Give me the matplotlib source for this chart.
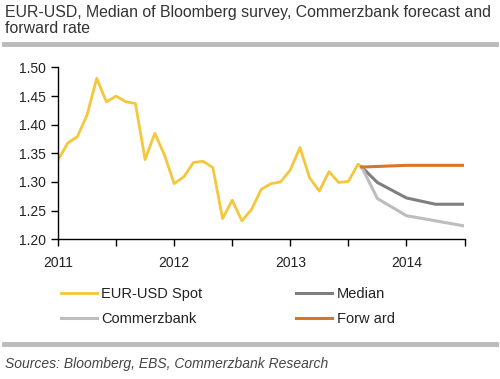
import matplotlib
matplotlib.use("Agg")
import matplotlib.pyplot as plt
from matplotlib.lines import Line2D
import numpy as np

plt.rcParams['font.family'] = ['Liberation Sans', 'DejaVu Sans']

# EUR-USD spot, monthly from Jan 2011, plus last observation mid-Aug 2013
spot_x = list(2011 + np.arange(32) / 12.0) + [2013.615]
spot_y = [1.338, 1.368, 1.379, 1.417, 1.481, 1.440, 1.450, 1.440, 1.437, 1.339,
          1.385, 1.347, 1.297, 1.309, 1.334, 1.336, 1.325, 1.236, 1.268, 1.232,
          1.252, 1.287, 1.297, 1.300, 1.321, 1.360, 1.307, 1.284, 1.318, 1.299,
          1.301, 1.331, 1.326]

# forecasts from last spot to mid 2014
fc_x = [2013.615, 2013.75, 2014.0, 2014.25, 2014.5]
median = [1.326, 1.299, 1.272, 1.261, 1.261]
commerz = [1.326, 1.271, 1.241, 1.232, 1.223]
forward = [1.326, 1.327, 1.329, 1.329, 1.329]

c_spot = "#F5C73C"
c_median = "#7F7F7F"
c_commerz = "#BDBDBD"
c_forward = "#DD7425"

fig = plt.figure(figsize=(5.0, 3.79), dpi=100)
ax = fig.add_axes([0.116, 0.369, 0.813, 0.453])

l_spot, = ax.plot(spot_x, spot_y, color=c_spot, lw=2.0, label="EUR-USD Spot")
l_med, = ax.plot(fc_x, median, color=c_median, lw=2.2, label="Median")
l_com, = ax.plot(fc_x, commerz, color=c_commerz, lw=2.2, label="Commerzbank")
l_fwd, = ax.plot(fc_x, forward, color=c_forward, lw=2.2, label="Forw ard")

ax.set_xlim(2011, 2014.5)
ax.set_ylim(1.20, 1.50)
ax.set_yticks(np.arange(1.20, 1.501, 0.05))
ax.set_yticklabels(["%.2f" % v for v in np.arange(1.20, 1.501, 0.05)])
ax.set_xticks([2011, 2012, 2013, 2014])
ax.set_xticklabels(["2011", "2012", "2013", "2014"])
ax.set_xticks([2011.5, 2012.5, 2013.5, 2014.5], minor=True)
ax.tick_params(axis='both', which='both', direction='out', length=5, width=1,
               color='black', labelsize=10, labelcolor='#222222')
ax.tick_params(axis='x', pad=7)
for s in ['top', 'right']:
    ax.spines[s].set_visible(False)
for s in ['left', 'bottom']:
    ax.spines[s].set_color('black')
    ax.spines[s].set_linewidth(1.0)

fig.legend(handles=[l_spot, l_com, l_med, l_fwd], ncol=2, frameon=False,
           loc='upper left', bbox_to_anchor=(0.095, 0.277), fontsize=10.5,
           handlelength=2.5, handletextpad=0.3, columnspacing=6.4,
           labelspacing=0.75, labelcolor='#222222')

fig.text(0.01, 0.988, "EUR-USD, Median of Bloomberg survey, Commerzbank forecast and\nforward rate",
         ha='left', va='top', fontsize=11.4, color='#333333', linespacing=1.12)

fig.add_artist(Line2D([0.008, 0.992], [0.883, 0.883], color='#BBBBBB', lw=3.5))
fig.add_artist(Line2D([0.008, 0.992], [0.092, 0.092], color='#BBBBBB', lw=3.5))

fig.text(0.01, 0.040, "Sources: Bloomberg, EBS, Commerzbank Research",
         ha='left', va='center', fontsize=10, style='italic', color='#444444')

fig.savefig("out.png", dpi=100)
